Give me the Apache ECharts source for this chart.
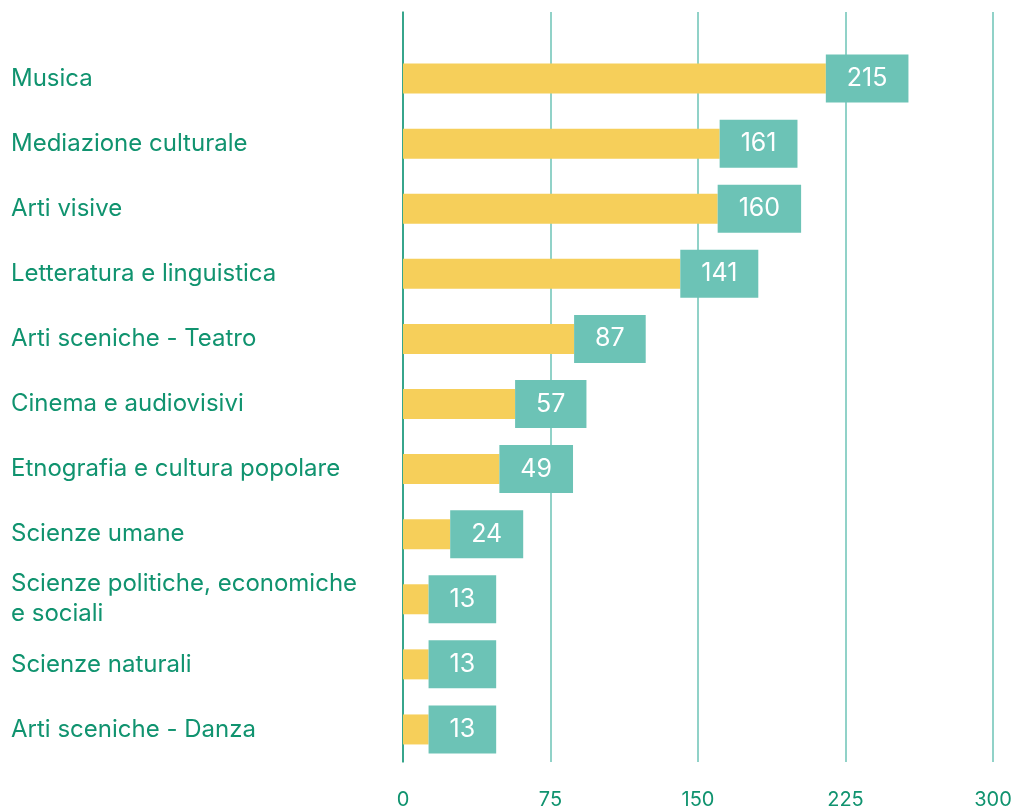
<!DOCTYPE html>
<html>
<head>
<meta charset="utf-8">
<script src="https://cdn.jsdelivr.net/npm/echarts@6/dist/echarts.min.js"></script>
<style>
  html, body { margin: 0; padding: 0; background: #fff; }
  #main { width: 1015px; height: 810px; }
</style>
</head>
<body>
<div id="main"></div>
<script>
const categories = [
  'Musica',
  'Mediazione culturale',
  'Arti visive',
  'Letteratura e linguistica',
  'Arti sceniche - Teatro',
  'Cinema e audiovisivi',
  'Etnografia e cultura popolare',
  'Scienze umane',
  'Scienze politiche, economiche\ne sociali',
  'Scienze naturali',
  'Arti sceniche - Danza'
];
const values = [215, 161, 160, 141, 87, 57, 49, 24, 13, 13, 13];
const xTicks = [0, 75, 150, 225, 300];

const green = '#10936f';
const teal = '#6cc3b6';
const yellow = '#f6cf5a';

const chart = echarts.init(document.getElementById('main'));

const option = {
  animation: false,
  grid: [
    // bars
    { left: 403, right: 22, top: 46, bottom: 48 },
    // taller grid just for the vertical gridlines
    { left: 403, right: 22, top: 12, bottom: 48 }
  ],
  xAxis: [
    {
      gridIndex: 0,
      type: 'value',
      min: xTicks[0],
      max: xTicks[xTicks.length - 1],
      interval: 75,
      axisLine: { show: false },
      axisTick: { show: false },
      splitLine: { show: false },
      axisLabel: { show: false }
    },
    {
      gridIndex: 1,
      type: 'value',
      min: xTicks[0],
      max: xTicks[xTicks.length - 1],
      interval: 75,
      axisLine: { show: false },
      axisTick: { show: false },
      splitLine: { show: true, lineStyle: { color: teal, width: 1.5 } },
      axisLabel: {
        margin: 28,
        color: green,
        fontFamily: 'Inter',
        fontSize: 20
      }
    }
  ],
  yAxis: [
    {
      gridIndex: 0,
      type: 'category',
      inverse: true,
      data: categories,
      axisLine: { show: false },
      axisTick: { show: false },
      axisLabel: {
        align: 'left',
        margin: 392,
        color: green,
        fontFamily: 'Inter',
        fontSize: 24,
        lineHeight: 30
      }
    },
    {
      gridIndex: 1,
      type: 'category',
      data: [''],
      axisLine: { show: true, lineStyle: { color: '#1a9677', width: 1.5 } },
      axisTick: { show: false },
      axisLabel: { show: false }
    }
  ],
  series: [
    {
      type: 'bar',
      xAxisIndex: 0,
      yAxisIndex: 0,
      data: values,
      barWidth: 30,
      z: 3,
      itemStyle: { color: yellow },
      label: {
        show: true,
        position: 'right',
        distance: 0,
        backgroundColor: teal,
        color: '#ffffff',
        fontFamily: 'Inter',
        fontSize: 25,
        lineHeight: 25,
        padding: [12, 21, 11, 21]
      }
    }
  ]
};

chart.setOption(option);
</script>
</body>
</html>
